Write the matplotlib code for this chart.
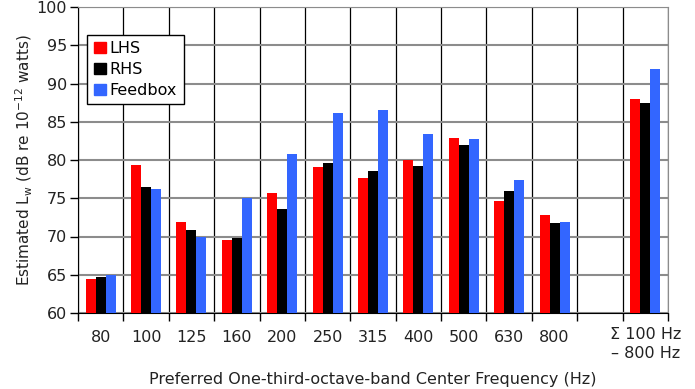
import numpy as np
import matplotlib.pyplot as plt
from matplotlib.patches import Patch

plt.rcParams["font.size"] = 11.5

bands = ["80", "100", "125", "160", "200", "250", "315", "400", "500", "630", "800",
         "\u03a3 100 Hz\n\u2013 800 Hz"]
lhs = [64.5, 79.4, 71.9, 69.5, 75.7, 79.1, 77.7, 80.0, 82.9, 74.7, 72.85, 88.0]
rhs = [64.65, 76.5, 70.9, 69.85, 73.6, 79.65, 78.6, 79.25, 81.9, 76.0, 71.7, 87.4]
feedbox = [65.0, 76.25, 69.9, 75.0, 80.8, 86.2, 86.6, 83.4, 82.8, 77.4, 71.9, 91.9]

# one empty slot is left between 800 Hz and the summed band
pos = np.array(list(range(11)) + [12], dtype=float)

fig = plt.figure(figsize=(6.95, 3.89), dpi=100)
ax = fig.add_axes([78 / 695, 1 - 313 / 389, 590 / 695, 306 / 389])

w = 0.22
ax.bar(pos - w, lhs, w, color="#ff0000", zorder=3)
ax.bar(pos, rhs, w, color="#000000", zorder=3)
ax.bar(pos + w, feedbox, w, color="#3366ff", zorder=3)

ax.set_xlim(-0.5, 12.5)
ax.set_ylim(60, 100)
ax.set_yticks(np.arange(60, 101, 5))
ax.set_xticks(pos)
ax.set_xticklabels(bands, color="#222222", linespacing=1.3)
ax.tick_params(axis="x", which="major", length=0, pad=12)
ax.set_xticks(np.arange(-0.5, 12.6, 1), minor=True)
ax.tick_params(axis="x", which="minor", length=6, width=1, direction="out")
ax.tick_params(axis="y", length=6, width=1, pad=2, labelcolor="#222222")

# the summed band label sits a little higher than the others
last = ax.get_xticklabels()[-1]
last.set_y(0.008)

ax.grid(axis="y", color="#8c8c8c", linewidth=1.5, zorder=0)
ax.grid(axis="x", which="minor", color="black", linewidth=0.9, zorder=0)
for s in ["top", "right"]:
    ax.spines[s].set_color("#8c8c8c")
for s in ["left", "bottom"]:
    ax.spines[s].set_color("black")

ax.set_xlabel("Preferred One-third-octave-band Center Frequency (Hz)",
              color="#222222", labelpad=8)
ax.set_ylabel(r"Estimated L$_\mathregular{w}$ (dB re 10$^\mathregular{-12}$ watts)",
              color="#222222", fontsize=11, labelpad=1)

handles = [Patch(color="#ff0000", label="LHS"), Patch(color="#000000", label="RHS"),
           Patch(color="#3366ff", label="Feedbox")]
leg = ax.legend(handles=handles, loc="upper left", bbox_to_anchor=(0.016, 0.91),
                fancybox=False, framealpha=1, edgecolor="black",
                handlelength=0.75, handleheight=0.75, handletextpad=0.25,
                labelspacing=0.38, borderpad=0.4, borderaxespad=0)
leg.get_frame().set_linewidth(1)

fig.savefig("out.png", dpi=100)
